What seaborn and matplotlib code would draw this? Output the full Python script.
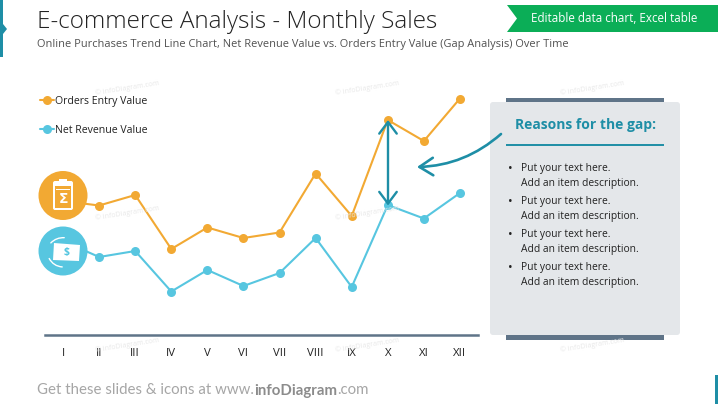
import matplotlib
matplotlib.use("Agg")
import matplotlib.pyplot as plt
import pandas as pd
import seaborn as sns
from matplotlib.patches import Circle, FancyArrowPatch, FancyBboxPatch, Polygon, Rectangle

months = ["I", "II", "III", "IV", "V", "VI", "VII", "VIII", "IX", "X", "XI", "XII"]
orders_entry = [67, 64.75, 70, 43, 53.75, 48.5, 51.25, 80.75, 59.5, 107.5, 97, 118.25]
net_revenue = [47, 39, 42, 21.75, 32.5, 24.5, 31, 48.5, 24, 65, 58.25, 71]
series_names = ["Orders Entry Value", "Net Revenue Value"]
bullet_line_1 = "Put your text here."
bullet_line_2 = "Add an item description."

ORANGE, BLUE, TEAL, SLATE, PANEL = "#F2A933", "#57C6E0", "#1E8EA6", "#5F7488", "#E4E7EA"

sns.set_theme(style="white")
plt.rcParams["font.family"] = ["Open Sans", "DejaVu Sans"]

W, H = 718, 404
fig = plt.figure(figsize=(W / 100, H / 100), dpi=100, facecolor="white")

bg = fig.add_axes([0, 0, 1, 1], zorder=0)
bg.set_xlim(0, W); bg.set_ylim(H, 0); bg.axis("off")

# chart axes: x 45..478 px, y 90..335 px
ax = fig.add_axes([45 / W, 1 - 335 / H, 433 / W, 245 / H], zorder=1)
ax.patch.set_alpha(0)
df = pd.DataFrame({
    "month": months * 2,
    "value": orders_entry + net_revenue,
    "series": [series_names[0]] * 12 + [series_names[1]] * 12,
})
sns.lineplot(data=df, x="month", y="value", hue="series", palette=[ORANGE, BLUE], sort=False,
             marker="o", markersize=6.5, markeredgewidth=0, linewidth=1.5, ax=ax)
ax.set_xlim(-0.5, 11.5); ax.set_ylim(0, 122.5)
ax.set_xlabel(""); ax.set_ylabel(""); ax.set_yticks([])
for s in ["top", "left", "right"]:
    ax.spines[s].set_visible(False)
ax.spines["bottom"].set_color(SLATE); ax.spines["bottom"].set_linewidth(1.8)
ax.tick_params(axis="x", length=0, pad=9, labelsize=8.2, labelcolor="#222222")
leg = ax.legend(loc="upper left", bbox_to_anchor=(-0.012, 0.975), frameon=False, fontsize=7.6,
                labelspacing=1.65, handlelength=1.35, handletextpad=0.05, borderpad=0, borderaxespad=0)
for t in leg.get_texts():
    t.set_color("#222222")

fg = fig.add_axes([0, 0, 1, 1], zorder=2)
fg.set_xlim(0, W); fg.set_ylim(H, 0); fg.axis("off")

# header
fg.text(37, 22, "E-commerce Analysis - Monthly Sales", fontsize=17.45, color="#222222", va="center",
        family=["Open Sans", "DejaVu Sans"], fontweight="light")
fg.text(37, 45, "Online Purchases Trend Line Chart, Net Revenue Value vs. Orders Entry Value (Gap Analysis) Over Time",
        fontsize=7.95, color="#505050", va="center")
fg.add_patch(Polygon([(507, 5), (718, 5), (718, 32), (507, 32), (517, 18.5)], fc="#0BAE57", ec="none"))
fg.text(614.5, 19, "Editable data chart, Excel table", fontsize=8.35, color="white", ha="center", va="center")
fg.add_patch(Polygon([(0, 0), (3, 0), (3, 24), (7, 29), (3, 34), (3, 57), (0, 57)], fc=TEAL, ec="none"))
fg.add_patch(Rectangle((715, 375), 3, 29, fc=TEAL, ec="none"))

# footer
FOOT = ["Lato", "DejaVu Sans"]
t1 = fg.text(37, 390.5, "Get these slides & icons at www.", fontsize=10.8, color="#A6A6A6", va="center", family=FOOT)
fig.canvas.draw()
x1 = t1.get_window_extent().x1
t2 = fg.text(x1, 390.5, "infoDiagram", fontsize=10.8, color="#8C8C8C", va="center", fontweight="bold", family=FOOT)
fig.canvas.draw()
x2 = t2.get_window_extent().x1
fg.text(x2, 390.5, ".com", fontsize=10.8, color="#A6A6A6", va="center", family=FOOT)

# watermarks
for x, y in [(95, 88), (335, 88), (95, 213), (335, 213), (560, 88), (95, 345), (335, 345), (560, 345)]:
    fg.text(x, y, "© infoDiagram.com", fontsize=5, color="#E8E8E8", rotation=9, va="center")

# icons
fg.add_patch(Circle((63, 195.5), 24.5, fc=ORANGE, ec="none"))
fg.add_patch(FancyBboxPatch((53, 181), 20, 29, boxstyle="round,pad=0,rounding_size=2", fc="white", ec="none"))
fg.add_patch(Rectangle((55, 186), 16, 22, fc=ORANGE, ec="none"))
fg.add_patch(Rectangle((59, 179), 8, 6, fc="white", ec="none"))
fg.add_patch(Rectangle((56, 189), 14, 1.2, fc="white", ec="none"))
fg.text(63, 199, "Σ", fontsize=10, color="white", ha="center", va="center", fontweight="bold", family="DejaVu Sans")
fg.add_patch(Circle((63, 251), 24.5, fc=BLUE, ec="none"))
fg.add_patch(Polygon([(54, 243), (80, 245), (79, 261), (53, 260)], fc="white", ec="none"))
fg.text(67, 252, "$", fontsize=7.5, color=BLUE, ha="center", va="center", fontweight="bold")
fg.add_patch(FancyArrowPatch((67, 238), (49, 245), connectionstyle="arc3,rad=0.3", arrowstyle="-", color="white", lw=1))
fg.add_patch(FancyArrowPatch((48, 256), (65, 267), connectionstyle="arc3,rad=0.35", arrowstyle="-", color="white", lw=1))

# panel
fg.add_patch(Rectangle((506, 98), 158, 4, fc=SLATE, ec="none"))
fg.add_patch(Rectangle((506, 335), 158, 5, fc=SLATE, ec="none"))
fg.add_patch(FancyBboxPatch((490, 102), 190, 233, boxstyle="round,pad=0,rounding_size=3", fc=PANEL, ec="none"))
fg.text(585.5, 125, "Reasons for the gap:", fontsize=10, color=TEAL, ha="center", va="center", fontweight="bold")
fg.plot([506, 664], [145, 145], color=TEAL, lw=1.4, solid_capstyle="butt")
for y in [168.5, 201.5, 234.5, 267.5]:
    fg.text(508, y, "•", fontsize=9, color="#222222", va="center")
    fg.text(521, y, bullet_line_1, fontsize=7.4, color="#222222", va="center")
    fg.text(521, y + 15, bullet_line_2, fontsize=7.4, color="#222222", va="center")

# gap arrows
fg.add_patch(FancyArrowPatch((388, 120), (388, 205.5), arrowstyle="<->,head_length=6,head_width=4.5",
                             color=TEAL, lw=1.7, shrinkA=0, shrinkB=0, mutation_scale=1.4))
fg.add_patch(FancyArrowPatch((501, 134), (417, 167), connectionstyle="arc3,rad=-0.18",
                             arrowstyle="->,head_length=7,head_width=4.5", color=TEAL, lw=1.9,
                             shrinkA=0, shrinkB=0, mutation_scale=1.4))

fig.savefig("out.png", dpi=100)
